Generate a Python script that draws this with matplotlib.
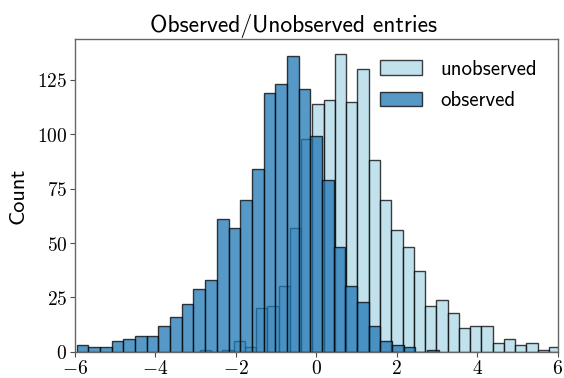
import numpy as np
import matplotlib
matplotlib.use("Agg")
import matplotlib.pyplot as plt
from matplotlib.ticker import FuncFormatter

# histogram counts
obs_start, obs_width = -5.958, 0.2903
obs_counts = [3, 2, 2, 5, 6, 7, 7, 12, 16, 22, 29, 33, 61, 57, 70, 84,
              119, 123, 136, 121, 99, 79, 48, 30, 23, 12, 5, 3, 2, 0, 1]

unobs_start, unobs_width = -2.898, 0.2799
unobs_counts = [1, 0, 1, 5, 2, 20, 21, 30, 57, 98, 114, 116, 137, 115, 130,
                88, 70, 56, 48, 37, 21, 24, 18, 11, 12, 12, 4, 6, 3, 4, 1, 2]

labels = ["unobserved", "observed"]
colors = ["lightblue", "#1f77b4"]

plt.rcParams["mathtext.fontset"] = "cm"
sans = "cmss10"

fig = plt.figure(figsize=(5.64, 3.78), dpi=100)
ax = fig.add_axes([0.133, 0.0696, 0.856, 0.8272])

for start, width, counts, lab, col in [
        (unobs_start, unobs_width, unobs_counts, labels[0], colors[0]),
        (obs_start, obs_width, obs_counts, labels[1], colors[1])]:
    edges = start + width * np.arange(len(counts))
    ax.bar(edges, counts, width=width, align="edge", color=col,
           edgecolor="black", linewidth=1.0, alpha=0.75, label=lab)

ax.set_xlim(-6, 6)
ax.set_xticks([-6, -4, -2, 0, 2, 4, 6])
ax.set_yticks([0, 25, 50, 75, 100, 125])
fmt = FuncFormatter(lambda v, pos: r"$%d$" % v)
ax.xaxis.set_major_formatter(fmt)
ax.yaxis.set_major_formatter(fmt)
ax.tick_params(labelsize=14, length=3.5, color="0.3", pad=2)
ax.set_ylabel("Count", fontsize=16, family=sans, labelpad=7)
ax.set_title("Observed/Unobserved entries", fontsize=17, family=sans,
             pad=5, x=0.452)
for s in ax.spines.values():
    s.set_color("0.4")
    s.set_linewidth(1.0)

ax.legend(loc="upper right", frameon=False, prop={"family": sans, "size": 15},
          borderaxespad=0.6, handletextpad=0.9, labelspacing=0.6)

fig.savefig("out.png", dpi=100)
